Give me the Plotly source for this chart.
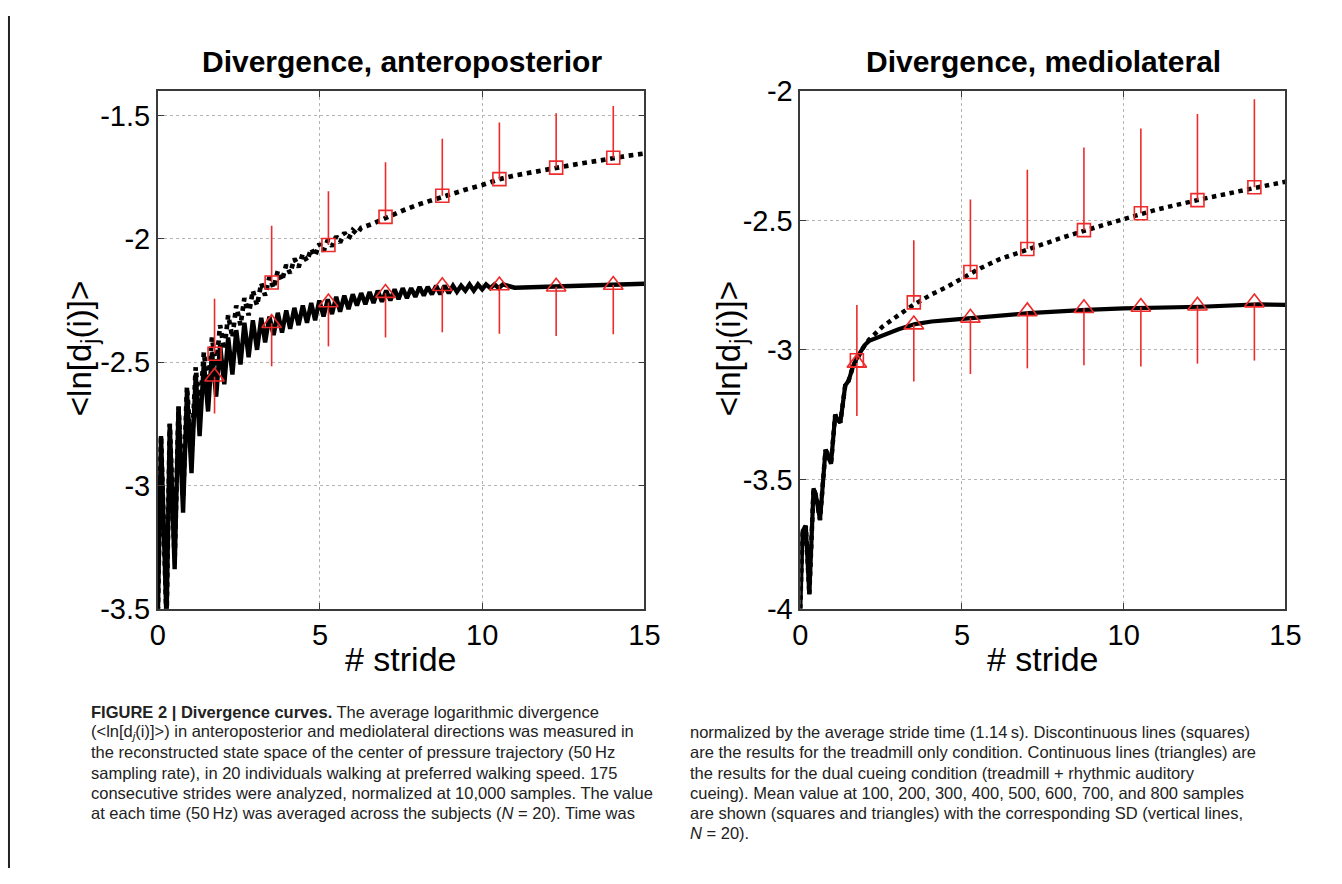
import plotly.graph_objects as go

W, H = 1342, 884

# ---------------- data ----------------
# stride positions of 100..800 samples
marker_x = [1.75, 3.51, 5.26, 7.02, 8.77, 10.53, 12.28, 14.04]

# Anteroposterior
ap_tread_mean = [-2.466, -2.177, -2.025, -1.911, -1.825, -1.758, -1.711, -1.671]
ap_tread_sd = [0.223, 0.230, 0.218, 0.222, 0.231, 0.230, 0.220, 0.210]
ap_dual_mean = [-2.559, -2.342, -2.258, -2.220, -2.192, -2.189, -2.194, -2.187]
ap_dual_sd = [0.149, 0.175, 0.178, 0.180, 0.187, 0.196, 0.200, 0.200]

# Mediolateral
ml_tread_mean = [-3.040, -2.816, -2.699, -2.610, -2.537, -2.472, -2.421, -2.371]
ml_tread_sd = [0.214, 0.240, 0.280, 0.306, 0.319, 0.328, 0.333, 0.340]
ml_dual_mean = [-3.050, -2.902, -2.876, -2.851, -2.839, -2.834, -2.829, -2.817]
ml_dual_sd = [0.205, 0.220, 0.217, 0.220, 0.220, 0.230, 0.224, 0.224]

# divergence curves (stride, <ln[dj(i)]>), peaks and troughs
ap_dual_curve = [
    (0.00, -3.55), (0.10, -2.80), (0.27, -3.55), (0.37, -2.75), (0.52, -3.34), (0.64, -2.68),
    (0.78, -3.11), (0.90, -2.62), (1.04, -2.95), (1.17, -2.55), (1.29, -2.80), (1.42, -2.50),
    (1.55, -2.70), (1.67, -2.46), (1.80, -2.64), (1.92, -2.43), (2.05, -2.59), (2.17, -2.40),
    (2.30, -2.55), (2.42, -2.37), (2.55, -2.51), (2.67, -2.34), (2.80, -2.48), (2.93, -2.33),
    (3.06, -2.45), (3.19, -2.32), (3.31, -2.42), (3.44, -2.315), (3.57, -2.39), (3.70, -2.30),
    (3.83, -2.38), (3.96, -2.29), (4.08, -2.365), (4.21, -2.28), (4.34, -2.35), (4.47, -2.27),
    (4.60, -2.34), (4.73, -2.26), (4.85, -2.33), (4.98, -2.25), (5.11, -2.315), (5.24, -2.245),
    (5.37, -2.305), (5.50, -2.235), (5.62, -2.295), (5.75, -2.23), (5.88, -2.285), (6.01, -2.225),
    (6.14, -2.27), (6.27, -2.22), (6.40, -2.265), (6.53, -2.215), (6.65, -2.26), (6.78, -2.21),
    (6.91, -2.255), (7.04, -2.21), (7.17, -2.25), (7.30, -2.205), (7.42, -2.245), (7.55, -2.20),
    (7.68, -2.24), (7.81, -2.20), (7.94, -2.235), (8.07, -2.195), (8.20, -2.23), (8.32, -2.195),
    (8.45, -2.225), (8.58, -2.19), (8.71, -2.225), (8.84, -2.19), (8.97, -2.22), (9.10, -2.19),
    (9.22, -2.215), (9.35, -2.19), (9.48, -2.21), (9.61, -2.185), (9.74, -2.21), (9.87, -2.185),
    (10.00, -2.205), (10.12, -2.185), (10.25, -2.20), (10.38, -2.185), (10.51, -2.20), (10.64, -2.185),
    (11.00, -2.198), (11.50, -2.196), (12.00, -2.195), (12.50, -2.193), (13.00, -2.192),
    (13.50, -2.190), (14.00, -2.188), (14.50, -2.185), (15.00, -2.182),
]

ap_tread_curve = [
    (0.00, -3.55), (0.10, -2.80), (0.27, -3.55), (0.37, -2.75), (0.52, -3.30), (0.64, -2.68),
    (0.78, -3.05), (0.90, -2.60), (1.04, -2.88), (1.17, -2.52), (1.29, -2.72), (1.42, -2.46),
    (1.55, -2.60), (1.67, -2.40), (1.80, -2.52), (1.92, -2.35), (2.05, -2.45), (2.17, -2.31),
    (2.30, -2.40), (2.42, -2.27), (2.55, -2.35), (2.67, -2.24), (2.80, -2.31), (2.93, -2.21),
    (3.06, -2.27), (3.19, -2.18), (3.31, -2.23), (3.44, -2.155), (3.57, -2.20), (3.70, -2.13),
    (3.83, -2.17), (3.96, -2.105), (4.08, -2.14), (4.21, -2.08), (4.34, -2.115), (4.47, -2.06),
    (4.60, -2.09), (4.73, -2.04), (4.85, -2.07), (4.98, -2.02), (5.11, -2.05), (5.24, -2.005),
    (5.37, -2.03), (5.50, -1.99), (5.62, -2.015), (5.75, -1.975), (5.88, -2.00), (6.01, -1.965),
    (6.14, -1.98), (6.27, -1.955), (6.60, -1.940), (7.07, -1.911), (7.50, -1.888), (8.00, -1.862),
    (8.84, -1.825), (9.50, -1.800), (10.00, -1.782), (10.53, -1.758), (11.00, -1.743),
    (11.50, -1.730), (12.30, -1.711), (13.00, -1.695), (13.50, -1.685), (14.04, -1.671),
    (14.50, -1.663), (15.00, -1.654),
]

ml_dual_curve = [
    (0.00, -4.00), (0.07, -3.70), (0.17, -3.68), (0.28, -3.945), (0.41, -3.535), (0.48, -3.56),
    (0.61, -3.657), (0.78, -3.386), (0.84, -3.40), (0.95, -3.44), (1.08, -3.25), (1.16, -3.27),
    (1.24, -3.28), (1.39, -3.137), (1.49, -3.12), (1.64, -3.06), (1.80, -3.02), (2.00, -2.98),
    (2.13, -2.965), (2.54, -2.945), (3.04, -2.92), (3.55, -2.90), (4.06, -2.89), (4.56, -2.885),
    (5.58, -2.875), (7.06, -2.858), (8.84, -2.845), (10.00, -2.839), (12.38, -2.833),
    (14.16, -2.824), (15.00, -2.826),
]

ml_tread_curve = [
    (0.00, -4.00), (0.07, -3.70), (0.17, -3.68), (0.28, -3.945), (0.41, -3.535), (0.48, -3.56),
    (0.61, -3.657), (0.78, -3.386), (0.84, -3.40), (0.95, -3.44), (1.08, -3.25), (1.16, -3.27),
    (1.24, -3.28), (1.39, -3.137), (1.49, -3.12), (1.64, -3.06), (1.80, -3.025), (1.95, -2.99),
    (2.13, -2.96), (2.54, -2.91), (3.04, -2.865), (3.51, -2.825), (4.06, -2.785), (4.56, -2.755),
    (5.26, -2.705), (5.57, -2.684), (6.15, -2.65), (7.06, -2.61), (8.00, -2.57), (8.84, -2.537),
    (10.00, -2.493), (11.00, -2.458), (12.38, -2.418), (13.20, -2.395), (14.16, -2.371),
    (15.00, -2.35),
]

x_ticks = [0, 5, 10, 15]
ap_y_ticks = [-3.5, -3, -2.5, -2, -1.5]
ap_y_labels = ["-3.5", "-3", "-2.5", "-2", "-1.5"]
ml_y_ticks = [-4, -3.5, -3, -2.5, -2]
ml_y_labels = ["-4", "-3.5", "-3", "-2.5", "-2"]

titles = ["Divergence, anteroposterior", "Divergence, mediolateral"]
x_title = "# stride"
y_title = "&lt;ln[d<sub>j</sub>(i)]&gt;"

caption_left = [
    "<b>FIGURE 2 | Divergence curves.</b> The average logarithmic divergence",
    "(&lt;ln[d<sub><i>j</i></sub>(i)]&gt;) in anteroposterior and mediolateral directions was measured in",
    "the reconstructed state space of the center of pressure trajectory (50\u2009Hz",
    "sampling rate), in 20 individuals walking at preferred walking speed. 175",
    "consecutive strides were analyzed, normalized at 10,000 samples. The value",
    "at each time (50\u2009Hz) was averaged across the subjects (<i>N</i> = 20). Time was",
]
caption_right = [
    "normalized by the average stride time (1.14\u2009s). Discontinuous lines (squares)",
    "are the results for the treadmill only condition. Continuous lines (triangles) are",
    "the results for the dual cueing condition (treadmill + rhythmic auditory",
    "cueing). Mean value at 100, 200, 300, 400, 500, 600, 700, and 800 samples",
    "are shown (squares and triangles) with the corresponding SD (vertical lines,",
    "<i>N</i> = 20).",
]

# ---------------- figure ----------------
FONT = "Liberation Sans, Arial, Helvetica, sans-serif"
RED = "#ee2a2a"


def fx(px):
    return px / W


def fy(py):
    return 1 - py / H


fig = go.Figure()


def add_panel(xa, ya, dual_curve, tread_curve, tread_mean, tread_sd, dual_mean, dual_sd, lw):
    dx, dy = zip(*dual_curve)
    tx, ty = zip(*tread_curve)
    fig.add_trace(go.Scatter(x=dx, y=dy, mode="lines", xaxis=xa, yaxis=ya,
                             line=dict(color="black", width=lw), showlegend=False,
                             hoverinfo="skip"))
    fig.add_trace(go.Scatter(x=tx, y=ty, mode="lines", xaxis=xa, yaxis=ya,
                             line=dict(color="black", width=lw + 0.3, dash="dot"), showlegend=False,
                             hoverinfo="skip"))
    fig.add_trace(go.Scatter(
        x=marker_x, y=tread_mean, mode="markers", xaxis=xa, yaxis=ya,
        marker=dict(symbol="square-open", size=13, color=RED, line=dict(width=1.6, color=RED)),
        error_y=dict(type="data", symmetric=False, array=tread_sd,
                     arrayminus=[0] * len(tread_sd), color=RED, thickness=1.6, width=0),
        showlegend=False))
    fig.add_trace(go.Scatter(
        x=marker_x, y=dual_mean, mode="markers", xaxis=xa, yaxis=ya,
        marker=dict(symbol="triangle-up-open", size=17, color=RED, line=dict(width=1.6, color=RED)),
        error_y=dict(type="data", symmetric=False, array=[0] * len(dual_sd),
                     arrayminus=dual_sd, color=RED, thickness=1.6, width=0),
        showlegend=False))


add_panel("x", "y", ap_dual_curve, ap_tread_curve, ap_tread_mean, ap_tread_sd,
          ap_dual_mean, ap_dual_sd, 4.4)
add_panel("x2", "y2", ml_dual_curve, ml_tread_curve, ml_tread_mean, ml_tread_sd,
          ml_dual_mean, ml_dual_sd, 4.2)

axis_common = dict(
    showgrid=True, gridcolor="#b4b4b4", griddash="dot", gridwidth=1,
    showline=True, linecolor="#3a3a3a", linewidth=1.6, mirror="ticks",
    ticks="inside", ticklen=6, tickcolor="#3a3a3a", tickwidth=1.4,
    tickfont=dict(family=FONT, size=29, color="black"), zeroline=False,
)

fig.update_layout(
    width=W, height=H,
    margin=dict(l=0, r=0, t=0, b=0),
    paper_bgcolor="white", plot_bgcolor="white",
    font=dict(family=FONT, color="black"),
    xaxis=dict(domain=[fx(152.5), fx(648)], range=[0, 15], tickvals=x_ticks,
               anchor="y", **axis_common),
    yaxis=dict(domain=[fy(615), fy(77.7)], range=[-3.5, -1.4], tickvals=ap_y_ticks,
               ticktext=ap_y_labels, anchor="x", **axis_common),
    xaxis2=dict(domain=[fx(806.7), fx(1300.7)], range=[0, 15], tickvals=x_ticks,
                anchor="y2", **axis_common),
    yaxis2=dict(domain=[fy(615), fy(78)], range=[-4, -2], tickvals=ml_y_ticks,
                ticktext=ml_y_labels, anchor="x2", **axis_common),
)

ann = []
# panel titles
for t, cx in zip(titles, [401, 1054]):
    ann.append(dict(text=f"<b>{t}</b>", x=fx(cx), y=fy(47), xanchor="center", yanchor="middle",
                    font=dict(family=FONT, size=30, color="black")))
# axis titles
for cx in [400, 1054]:
    ann.append(dict(text=x_title, x=fx(cx), y=fy(667), xanchor="center", yanchor="middle",
                    font=dict(family=FONT, size=34, color="black")))
for cx in [75, 736]:
    ann.append(dict(text=y_title, x=fx(cx), y=fy(345), xanchor="center", yanchor="middle",
                    textangle=-90, font=dict(family=FONT, size=33, color="black")))
# caption (right column starts one line lower than the left one)
for i, line in enumerate(caption_left):
    ann.append(dict(text=line, x=fx(82), y=fy(722 + 21 * i), xanchor="left", yanchor="middle",
                    font=dict(family=FONT, size=16.5, color="#222")))
for i, line in enumerate(caption_right):
    ann.append(dict(text=line, x=fx(692), y=fy(743 + 21 * i), xanchor="left", yanchor="middle",
                    font=dict(family=FONT, size=16.5, color="#222")))
for a in ann:
    a.update(xref="paper", yref="paper", showarrow=False)
fig.update_layout(annotations=ann)

# left border line of the figure page
fig.add_shape(type="line", xref="paper", yref="paper", x0=fx(1), x1=fx(1), y0=0, y1=1,
              line=dict(color="#222", width=2))

fig.write_html(
    "out.html",
    post_script="document.body.style.margin='0';document.body.style.padding='0';"
                "document.body.style.overflow='hidden';",
)
